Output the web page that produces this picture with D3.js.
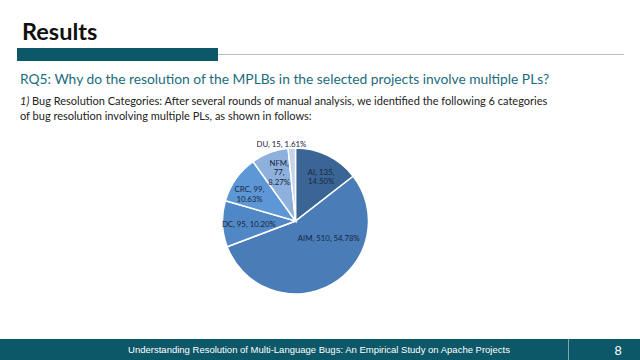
<!DOCTYPE html>
<html>
<head>
<meta charset="utf-8">
<script src="https://cdn.jsdelivr.net/npm/d3@7"></script>
<style>
  html, body { margin: 0; padding: 0; background: #fff; }
  svg { display: block; }
</style>
</head>
<body>
<script>
// ---- data ----
const categories = ["AI", "AIM", "DC", "CRC", "NFM", "DU"];
const counts = [135, 510, 95, 99, 77, 15];
const percents = ["14.50%", "54.78%", "10.20%", "10.63%", "8.27%", "1.61%"];
const sliceColors = ["#3b6594", "#4a7db8", "#5088c6", "#5e97d6", "#8eb0dc", "#c4d5eb"];

// how each label is broken into lines (Excel style)
const labelBreaks = { AI: 2, AIM: 1, DC: 1, CRC: 2, NFM: 3, DU: 1 };
// label placement: radius factor and angle tweak (degrees)
const labelPlace = {
  AI:  { k: 0.70, da: 4 },
  AIM: { k: 0.51, da: -34 },
  DC:  { k: 0.64, da: -1.5 },
  CRC: { k: 0.73, da: -5 },
  NFM: { k: 0.70, da: 2 },
  DU:  { k: 1.07, da: -7.5 }
};

const W = 640, H = 360;
const teal = "#0d5868";
const font = "Lato, 'Open Sans', sans-serif";

const svg = d3.select("body").append("svg")
  .attr("width", W)
  .attr("height", H);

// ---------- header ----------
svg.append("text")
  .attr("x", 22)
  .attr("y", 40)
  .attr("font-family", font)
  .attr("font-weight", 700)
  .attr("font-size", 23.5)
  .attr("fill", "#111")
  .text("Results");

svg.append("line")
  .attr("x1", 218).attr("x2", 624)
  .attr("y1", 54.5).attr("y2", 54.5)
  .attr("stroke", "#bdbdbd")
  .attr("stroke-width", 1);

svg.append("rect")
  .attr("x", 17).attr("y", 48)
  .attr("width", 201).attr("height", 13)
  .attr("fill", teal);

svg.append("text")
  .attr("x", 20)
  .attr("y", 84)
  .attr("font-family", font)
  .attr("font-size", 13.8)
  .attr("fill", "#1b6c7e")
  .text("RQ5: Why do the resolution of the MPLBs in the selected projects involve multiple PLs?");

const para = svg.append("g")
  .attr("font-family", font)
  .attr("font-size", 11)
  .attr("fill", "#222");

const l1 = para.append("text").attr("x", 20).attr("y", 105);
l1.append("tspan").attr("font-style", "italic").text("1)");
l1.append("tspan").text(" Bug Resolution Categories: After several rounds of manual analysis, we identified the following 6 categories");

para.append("text").attr("x", 20).attr("y", 120)
  .text("of bug resolution involving multiple PLs, as shown in follows:");

// ---------- pie ----------
const cx = 295.5, cy = 221, R = 73;

const pie = d3.pie().sort(null).value(d => d.count);
const arc = d3.arc().innerRadius(0).outerRadius(R);

const rows = categories.map((c, i) => ({
  cat: c, count: counts[i], pct: percents[i], color: sliceColors[i]
}));
const arcs = pie(rows);

const g = svg.append("g").attr("transform", `translate(${cx},${cy})`);

g.selectAll("path.slice")
  .data(arcs)
  .join("path")
  .attr("class", "slice")
  .attr("d", arc)
  .attr("fill", d => d.data.color)
  .attr("stroke", "#fff")
  .attr("stroke-width", 1.5);

// labels
arcs.forEach(a => {
  const c = a.data.cat;
  const p = labelPlace[c];
  const ang = (a.startAngle + a.endAngle) / 2 + p.da * Math.PI / 180;
  const x = Math.sin(ang) * R * p.k;
  const y = -Math.cos(ang) * R * p.k;

  const parts = [c + ",", a.data.count + ",", a.data.pct];
  let lines;
  if (labelBreaks[c] === 1) lines = [parts.join(" ")];
  else if (labelBreaks[c] === 2) lines = [parts[0] + " " + parts[1], parts[2]];
  else lines = parts;

  const lh = 9.8;
  const t = g.append("text")
    .attr("x", x)
    .attr("y", y - (lines.length - 1) * lh / 2)
    .attr("text-anchor", "middle")
    .attr("font-family", font)
    .attr("font-size", 7.8)
    .attr("fill", "#17253f");

  lines.forEach((ln, i) => {
    t.append("tspan")
      .attr("x", x)
      .attr("dy", i === 0 ? "0.35em" : lh)
      .text(ln);
  });
});

// ---------- footer ----------
svg.append("rect")
  .attr("x", 0).attr("y", 339)
  .attr("width", W).attr("height", H - 339)
  .attr("fill", teal);

svg.append("line")
  .attr("x1", 568.5).attr("x2", 568.5)
  .attr("y1", 339).attr("y2", H)
  .attr("stroke", "#7fa6ae")
  .attr("stroke-width", 1);

svg.append("text")
  .attr("x", 319)
  .attr("y", 353)
  .attr("text-anchor", "middle")
  .attr("font-family", "'Liberation Sans', Arial, sans-serif")
  .attr("font-size", 9.5)
  .attr("fill", "#fff")
  .text("Understanding Resolution of Multi-Language Bugs: An Empirical Study on Apache Projects");

svg.append("text")
  .attr("x", 618)
  .attr("y", 354.5)
  .attr("text-anchor", "middle")
  .attr("font-family", "'Liberation Sans', Arial, sans-serif")
  .attr("font-size", 13)
  .attr("fill", "#fff")
  .text("8");
</script>
</body>
</html>
